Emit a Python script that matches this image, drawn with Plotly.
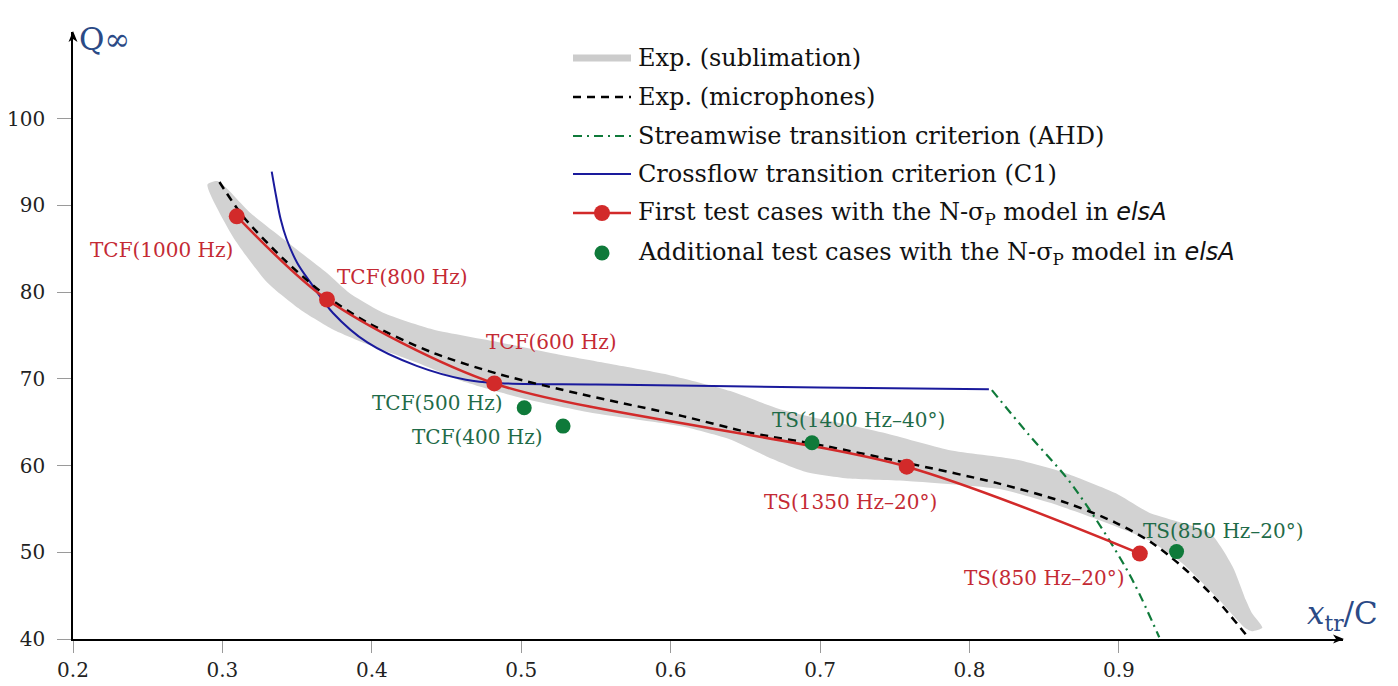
import plotly.graph_objects as go

# ---------------- data ----------------
x_ticks = [0.2, 0.3, 0.4, 0.5, 0.6, 0.7, 0.8, 0.9]
y_ticks = [40, 50, 60, 70, 80, 90, 100]

# Exp. (sublimation) band: upper edge (left->right) and lower edge (left->right)
band_upper_x = [0.290, 0.297, 0.319, 0.341, 0.370, 0.385, 0.408, 0.441, 0.486, 0.519, 0.560,
                0.600, 0.640, 0.675, 0.742, 0.786, 0.831, 0.865, 0.898, 0.920, 0.961,
                0.976, 0.985, 0.989, 0.996]
band_upper_q = [92.4, 92.8, 89.1, 86.1, 82.2, 79.9, 77.6, 75.7, 74.2, 73.0, 71.7,
                70.4, 68.6, 66.4, 63.8, 61.8, 60.7, 59.1, 56.8, 54.6, 52.2,
                48.4, 44.5, 43.0, 41.3]
band_lower_x = [0.290, 0.307, 0.330, 0.352, 0.374, 0.397, 0.430, 0.463, 0.500, 0.550,
                0.608, 0.640, 0.665, 0.690, 0.720, 0.760, 0.820, 0.854, 0.887, 0.920,
                0.942, 0.965, 0.985, 0.989]
band_lower_q = [92.4, 86.4, 81.1, 78.0, 75.7, 74.0, 71.9, 69.6, 67.8, 66.0,
                64.5, 63.0, 61.0, 59.3, 58.5, 58.2, 57.3, 55.7, 53.7, 51.4,
                48.8, 44.9, 41.2, 40.9]

# Exp. (microphones)
mic_x = [0.298, 0.314, 0.341, 0.370, 0.397, 0.441, 0.486, 0.541, 0.608, 0.653, 0.702,
         0.758, 0.818, 0.865, 0.898, 0.922, 0.942, 0.965, 0.986]
mic_q = [92.7, 88.7, 83.8, 79.5, 76.5, 73.0, 70.5, 68.2, 65.7, 63.8, 62.3,
         60.3, 58.0, 55.7, 53.4, 51.1, 48.4, 44.6, 40.3]

# Streamwise transition criterion (AHD)
ahd_x = [0.815, 0.840, 0.865, 0.880, 0.895, 0.910, 0.927]
ahd_q = [68.7, 63.5, 58.6, 55.0, 51.0, 46.5, 40.2]

# Crossflow transition criterion (C1)
c1_x = [0.333, 0.336, 0.339, 0.343, 0.350, 0.359, 0.374, 0.397, 0.430, 0.463, 0.486,
        0.550, 0.617, 0.700, 0.813]
c1_q = [93.9, 91.0, 88.4, 86.1, 83.4, 81.1, 77.6, 74.2, 71.5, 69.9, 69.5,
        69.35, 69.2, 69.0, 68.8]

# First test cases (N-sigma_P model in elsA)
first_x = [0.3096, 0.370, 0.482, 0.758, 0.914]
first_q = [88.74, 79.15, 69.47, 59.87, 49.85]
first_labels = ["TCF(1000 Hz)", "TCF(800 Hz)", "TCF(600 Hz)", "TS(1350 Hz–20°)", "TS(850 Hz–20°)"]

# Additional test cases
add_x = [0.502, 0.528, 0.6946, 0.9386]
add_q = [66.67, 64.55, 62.64, 50.08]
add_labels = ["TCF(500 Hz)", "TCF(400 Hz)", "TS(1400 Hz–40°)", "TS(850 Hz–20°)"]

legend_names = [
    "Exp. (sublimation)",
    "Exp. (microphones)",
    "Streamwise transition criterion (AHD)",
    "Crossflow transition criterion (C1)",
    "First test cases with the N-σ<sub>P</sub> model in <span style=\"font-family:'DejaVu Sans'\"><i>elsA</i></span>",
    "Additional test cases with the N-σ<sub>P</sub> model in <span style=\"font-family:'DejaVu Sans'\"><i>elsA</i></span>",
]

# ---------------- styles ----------------
GRAY = "#d2d2d2"
RED = "#d22a2a"
GREEN = "#0f7a3a"
BLUE = "#1a1a9c"
RED_TXT = "#c42a34"
GREEN_TXT = "#1f6b48"
AXIS_TXT = "#2b4a86"
FONT = "DejaVu Serif"

W, H = 1398, 686
ML, MR, MT, MB = 73, 55, 32, 47
X0, X1 = 0.2, 1.05
Y0, Y1 = 40, 110
PW = W - ML - MR
PH = H - MT - MB


def px2paper(px, py):
    return (px - ML) / PW, (H - MB - py) / PH


fig = go.Figure()

fig.add_trace(go.Scatter(
    x=band_upper_x + band_lower_x[::-1], y=band_upper_q + band_lower_q[::-1],
    fill="toself", fillcolor=GRAY, mode="lines", line=dict(width=0, color=GRAY, shape="spline", smoothing=0.6),
    showlegend=False, hoverinfo="skip"))

fig.add_trace(go.Scatter(
    x=c1_x, y=c1_q, mode="lines", line=dict(color=BLUE, width=2, shape="spline", smoothing=1.0),
    showlegend=False))

fig.add_trace(go.Scatter(
    x=ahd_x, y=ahd_q, mode="lines", line=dict(color=GREEN, width=2.2, dash="9px,5px,2px,5px", shape="spline"),
    showlegend=False))

fig.add_trace(go.Scatter(
    x=mic_x, y=mic_q, mode="lines", line=dict(color="black", width=2.5, dash="8px,6px", shape="spline", smoothing=0.8),
    showlegend=False))

fig.add_trace(go.Scatter(
    x=first_x, y=first_q, mode="lines+markers",
    line=dict(color=RED, width=2.5, shape="spline", smoothing=0.8),
    marker=dict(color=RED, size=16), showlegend=False))

fig.add_trace(go.Scatter(
    x=add_x, y=add_q, mode="markers", marker=dict(color=GREEN, size=15), showlegend=False))

# ---------------- point labels ----------------
first_pos = [(0.2589, 84.9), (0.4208, 81.76), (0.5204, 74.27), (0.7203, 55.83), (0.8499, 47.07)]
add_pos = [(0.4442, 67.24), (0.4710, 63.32), (0.7256, 65.28), (0.9703, 52.48)]
annotations = []
for (px, py), t in zip(first_pos, first_labels):
    annotations.append(dict(x=px, y=py, xref="x", yref="y", text=t, showarrow=False,
                            font=dict(family=FONT, size=20, color=RED_TXT), xanchor="center", yanchor="middle"))
for (px, py), t in zip(add_pos, add_labels):
    annotations.append(dict(x=px, y=py, xref="x", yref="y", text=t, showarrow=False,
                            font=dict(family=FONT, size=20, color=GREEN_TXT), xanchor="center", yanchor="middle"))

# axis titles
annotations.append(dict(x=X0, y=109.2, xref="x", yref="y", text="Q∞", showarrow=False, xshift=4,
                        font=dict(family=FONT, size=31, color=AXIS_TXT), xanchor="left", yanchor="middle"))
annotations.append(dict(x=1.0244, y=42.7, xref="x", yref="y", text="<i>x</i><sub>tr</sub>/C", showarrow=False,
                        font=dict(family=FONT, size=31, color=AXIS_TXT), xanchor="left", yanchor="middle"))

shapes = []


# axis arrowheads (pixel triangles)
def tri(points):
    pts = [px2paper(*p) for p in points]
    return "M " + " L ".join(f"{a:.5f},{b:.5f}" for a, b in pts) + " Z"


x_end = ML + PW
y_base = H - MB
shapes.append(dict(type="path", xref="paper", yref="paper",
                   path=tri([(x_end + 1, y_base), (x_end - 10, y_base - 4.5), (x_end - 7, y_base), (x_end - 10, y_base + 4.5)]),
                   fillcolor="black", line=dict(width=0)))
shapes.append(dict(type="path", xref="paper", yref="paper",
                   path=tri([(ML, MT - 1), (ML - 4.5, MT + 10), (ML, MT + 7), (ML + 4.5, MT + 10)]),
                   fillcolor="black", line=dict(width=0)))

# ---------------- manual legend ----------------
leg_x0, leg_x1, leg_xt = 573, 631, 636
leg_rows = [58, 97, 136, 174, 213, 253]
leg_styles = [
    dict(color="#cccccc", width=7, dash="solid"),
    dict(color="black", width=2.5, dash="8px,6px"),
    dict(color=GREEN, width=2.2, dash="9px,5px,2px,5px"),
    dict(color=BLUE, width=2.2, dash="solid"),
    dict(color=RED, width=2.5, dash="solid"),
    None,
]
for i, (row, name) in enumerate(zip(leg_rows, legend_names)):
    sty = leg_styles[i]
    if sty is not None:
        a = px2paper(leg_x0, row)
        b = px2paper(leg_x1, row)
        shapes.append(dict(type="line", xref="paper", yref="paper", x0=a[0], y0=a[1], x1=b[0], y1=b[1],
                           line=sty))
    if i in (4, 5):
        c = px2paper((leg_x0 + leg_x1) / 2, row)
        col = RED if i == 4 else GREEN
        r = 8 if i == 4 else 7.5
        shapes.append(dict(type="circle", xref="paper", yref="paper", xsizemode="pixel", ysizemode="pixel",
                           xanchor=c[0], yanchor=c[1], x0=-r, x1=r, y0=-r, y1=r,
                           fillcolor=col, line=dict(width=0)))
    t = px2paper(leg_xt, row)
    annotations.append(dict(x=t[0], y=t[1], xref="paper", yref="paper", text=name, showarrow=False,
                            font=dict(family=FONT, size=24, color="#111"), xanchor="left", yanchor="middle"))

fig.update_layout(
    width=W, height=H,
    margin=dict(l=ML, r=MR, t=MT, b=MB, pad=0, autoexpand=False),
    paper_bgcolor="white", plot_bgcolor="white",
    showlegend=False,
    annotations=annotations,
    shapes=shapes,
    xaxis=dict(range=[X0, X1], tickvals=x_ticks, ticktext=[f"{v:.1f}" for v in x_ticks], automargin=False,
               showgrid=False, zeroline=False, showline=True, linecolor="black", linewidth=1.6,
               ticks="outside", ticklen=12, tickcolor="#9a9a9a", tickwidth=1,
               tickfont=dict(family=FONT, size=20, color="#222")),
    yaxis=dict(range=[Y0, Y1], tickvals=y_ticks, ticktext=[str(v) for v in y_ticks], automargin=False,
               showgrid=False, zeroline=False, showline=True, linecolor="black", linewidth=1.6,
               ticks="outside", ticklen=14, tickcolor="#9a9a9a", tickwidth=1, ticklabelstandoff=8,
               tickfont=dict(family=FONT, size=20, color="#222")),
)

fig.write_html("out.html")
